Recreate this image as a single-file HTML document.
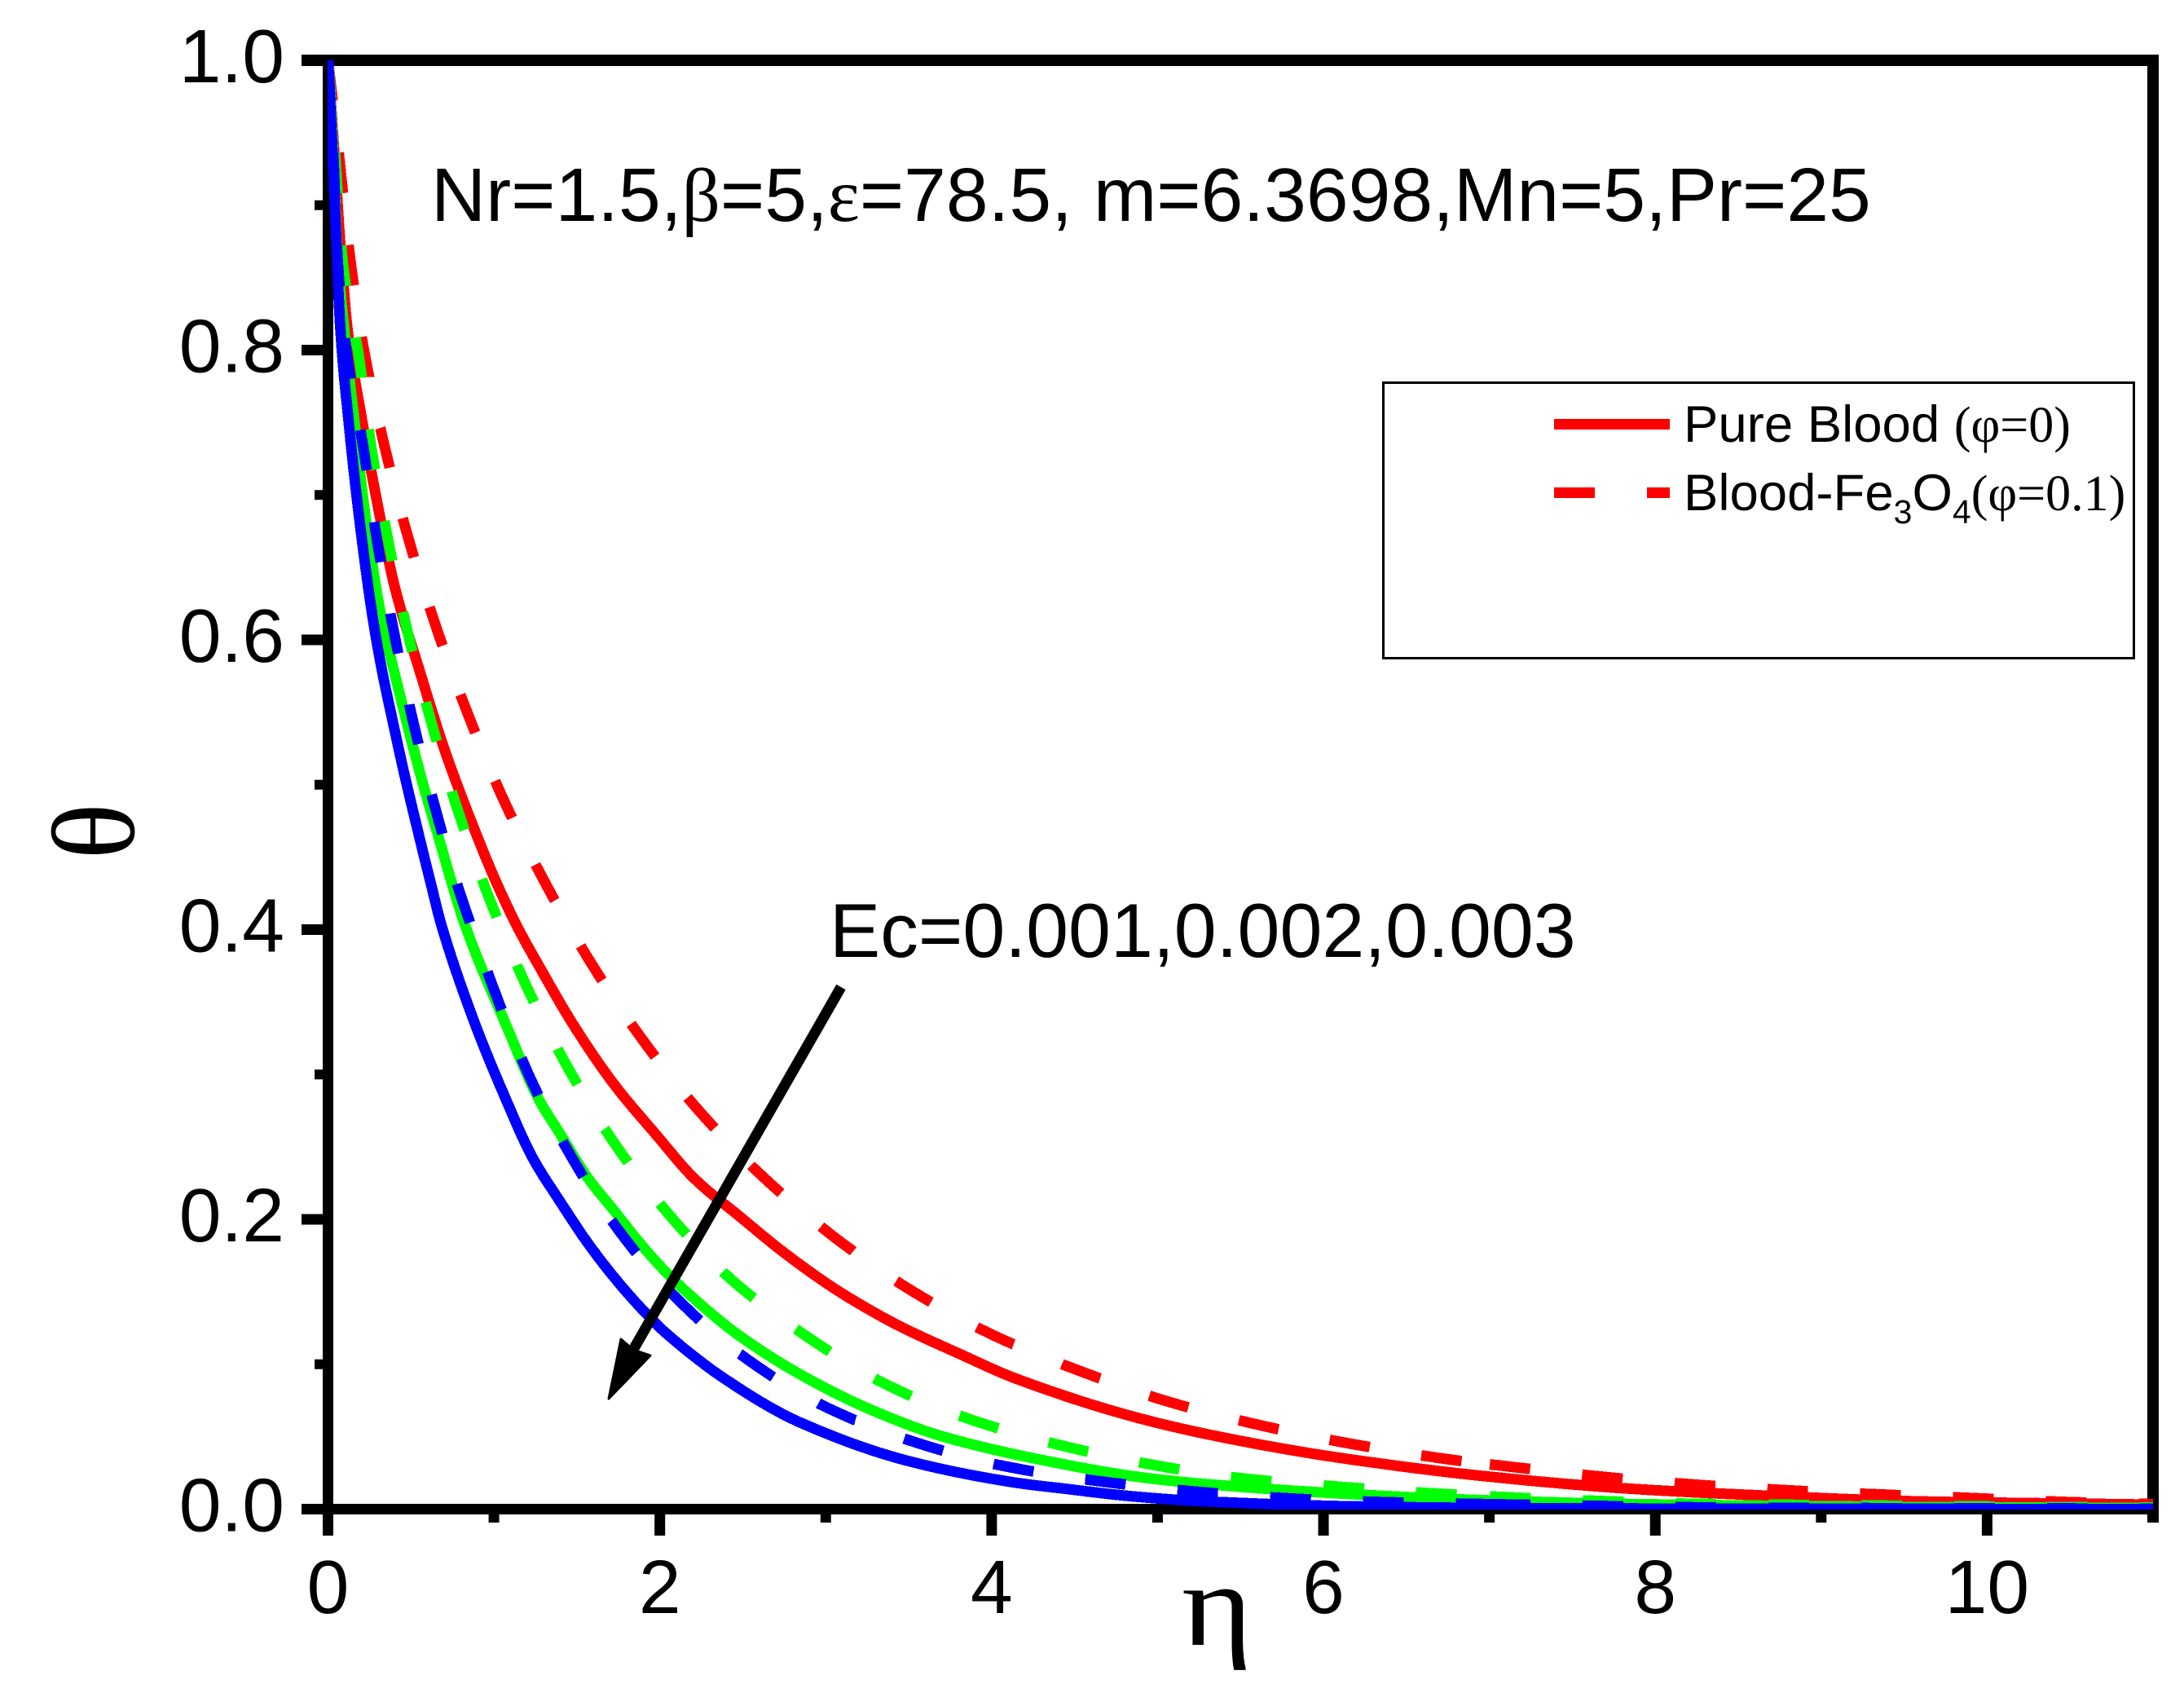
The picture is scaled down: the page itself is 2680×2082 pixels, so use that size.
<!DOCTYPE html>
<html lang="en">
<head>
<meta charset="utf-8">
<title>Temperature profile chart</title>
<style>
html,body{margin:0;padding:0;background:#fff;}
svg{display:block;}
text{font-family:"Liberation Sans",sans-serif;fill:#000;}
</style>
</head>
<body>
<svg id="chart" xmlns="http://www.w3.org/2000/svg" width="2680" height="2082" viewBox="0 0 2680 2082">
  <rect x="0" y="0" width="2680" height="2082" fill="#fff"/>
  <defs>
    <clipPath id="plot-clip"><rect x="402" y="73" width="2241" height="1779"/></clipPath>
  </defs>
  <g id="axes"></g>
  <g id="series" clip-path="url(#plot-clip)"></g>

  <text x="529" y="271" font-size="93">Nr=1.5,<tspan style="font-family:'Liberation Serif',serif">β</tspan>=5,<tspan style="font-family:'Liberation Serif',serif">ε</tspan>=78.5, m=6.3698,Mn=5,Pr=25</text>
  <text x="1018" y="1174" font-size="93.3">Ec=0.001,0.002,0.003</text>

  <g>
    <line x1="1032" y1="1211" x2="777" y2="1656" stroke="#000" stroke-width="13"/>
    <polygon points="747,1716 762,1643 777,1656 798,1663" fill="#000" stroke="#000" stroke-width="3" stroke-linejoin="round"/>
  </g>

  <g>
    <rect x="1697.5" y="469.5" width="921" height="338" fill="none" stroke="#000" stroke-width="3"/>
    <rect x="1907" y="514" width="142" height="13" fill="#ff0000"/>
    <text x="2066" y="542" font-size="63.5">Pure Blood <tspan font-size="62" style="font-family:'Liberation Serif',serif">(φ=0)</tspan></text>
    <rect x="1907" y="598" width="50" height="13" fill="#ff0000"/>
    <rect x="2021" y="598" width="28" height="13" fill="#ff0000"/>
    <text x="2066" y="626" font-size="63.5">Blood-Fe<tspan font-size="41" dy="16">3</tspan><tspan dy="-16">O</tspan><tspan font-size="41" dy="16">4</tspan><tspan dy="-16" font-size="62" style="font-family:'Liberation Serif',serif">(φ=0.1)</tspan></text>
  </g>

  <text style="font-family:'Liberation Serif',serif" font-size="145" text-anchor="middle" transform="translate(164,1020) rotate(-90)">θ</text>
  <text style="font-family:'Liberation Serif',serif" font-size="145" transform="translate(1450,2018) scale(1.15,1)">η</text>
</svg>
<script>
// ---- chart data ----
const redSolidEta = [0,0.043,0.076,0.12,0.2,0.3,0.402,0.5477,0.703,0.8916,1.0225,1.15,1.281,1.477,1.723,1.969,2.214,2.476,2.738,3.033,3.25,3.442,3.8,4.16,4.9,5.5,6.14,7,7.86,8.73,9.6,10.9,11];
const redSolid = [1,0.927,0.87,0.812,0.755,0.6928,0.6366,0.5803,0.524,0.4665,0.4305,0.4,0.373,0.3346,0.2934,0.2596,0.2275,0.2025,0.178,0.1537,0.1385,0.1265,0.1075,0.0895,0.0624,0.0471,0.0347,0.0224,0.014,0.009,0.0053,0.0032,0.003];
const redDashedEta = [0,0.059,0.138,0.223,0.34,0.479,0.6476,0.836,1.052,1.301,1.576,1.89,2.231,2.632,3.066,3.516,4.02,4.54,5.07,5.63,6.18,6.74,7.11,7.67,8.23,8.8,9.36,9.92,10.46,11];
const redDashed = [1,0.9415,0.859,0.796,0.734,0.6722,0.6103,0.5509,0.4912,0.434,0.3787,0.3249,0.2756,0.2283,0.1865,0.1509,0.1195,0.095,0.074,0.0576,0.0448,0.0346,0.0295,0.0225,0.017,0.013,0.0101,0.0076,0.005,0.0034];
const greenSolidEta = [0,0.035,0.055,0.12,0.16,0.217,0.318,0.394,0.561,0.656,0.826,1.085,1.265,1.396,1.56,1.723,1.887,2.05,2.263,2.476,2.846,3.285,3.725,4.41,4.9,5.27,6.14,7,7.86,9,10,11];
const greenSolid = [1,0.927,0.87,0.79,0.75,0.6928,0.6178,0.5803,0.5054,0.4678,0.4031,0.331,0.284,0.2596,0.2296,0.2062,0.1827,0.1621,0.1396,0.12,0.093,0.068,0.0495,0.0315,0.022,0.0175,0.0105,0.006,0.0035,0.002,0.0012,0.0008];
const greenDashedEta = [0,0.04,0.09,0.185,0.262,0.361,0.4757,0.6165,0.7785,0.965,1.18,1.428,1.71,2.034,2.414,2.828,3.35,3.87,4.39,4.95,5.5,6.06,6.6,7.11,7.67,8.23,8.8,9.36,11];
const greenDashed = [1,0.94,0.859,0.796,0.732,0.6694,0.6075,0.5456,0.4837,0.4237,0.365,0.3084,0.2553,0.2062,0.1602,0.1237,0.0869,0.062,0.0448,0.031,0.0214,0.0158,0.0113,0.0082,0.0056,0.0037,0.003,0.0024,0.001];
const blueSolidEta = [0,0.03,0.076,0.125,0.179,0.266,0.323,0.392,0.464,0.623,0.6836,0.876,1.068,1.232,1.396,1.56,1.723,1.887,2.034,2.41,2.846,3.505,4.16,4.41,4.86,5.27,6.14,7,8,11];
const blueSolid = [1,0.93,0.812,0.75,0.6928,0.6178,0.5803,0.5428,0.5054,0.4303,0.4031,0.338,0.284,0.2428,0.2128,0.1846,0.1602,0.1387,0.1218,0.0885,0.0598,0.033,0.018,0.0145,0.0087,0.0054,0.002,0.0008,0.0004,0];
const blueDashedEta = [0,0.03,0.06,0.115,0.214,0.2955,0.397,0.5149,0.6524,0.8096,1.202,1.453,1.748,2.091,2.52,3,3.53,4.08,4.64,5.2,5.76,6.31,6.87,7.5,8.5,11];
const blueDashed = [1,0.94,0.859,0.796,0.732,0.6685,0.6056,0.5428,0.4813,0.4203,0.3018,0.246,0.1931,0.1467,0.104,0.0705,0.0465,0.0296,0.0194,0.0124,0.0076,0.005,0.0037,0.0025,0.001,0.0003];
const xMajorTicks = [0,2,4,6,8,10];
const xMinorTicks = [1,3,5,7,9,11];
const yMajorTicks = [0,0.2,0.4,0.6,0.8,1];
const yMinorTicks = [0.1,0.3,0.5,0.7,0.9];
const xTickLabels = ['0','2','4','6','8','10'];
const yTickLabels = ['0.0','0.2','0.4','0.6','0.8','1.0'];

// ---- axis functions ----
const NS = 'http://www.w3.org/2000/svg';
const xPos = function (v) { return 402.5 + v * (2642 - 402.5) / 11; };
const yPos = function (v) { return 1851.5 - v * (1851.5 - 74); };
const axesG = document.getElementById('axes');
const seriesG = document.getElementById('series');

function rect(parent, x, y, w, h, name) {
  const r = document.createElementNS(NS, 'rect');
  r.setAttribute('x', x);
  r.setAttribute('y', y);
  r.setAttribute('width', w);
  r.setAttribute('height', h);
  r.setAttribute('fill', '#000');
  
  
  parent.appendChild(r);
  return r;
}

// frame
rect(axesG, 370, 67, 2279, 14, 'top-axis-line');
rect(axesG, 396, 67, 13, 1817, 'left-axis-line');
rect(axesG, 370, 1845, 2279, 13, 'bottom-axis-line');
rect(axesG, 2635, 67, 14, 1801, 'right-axis-line');

// ticks
yMajorTicks.forEach(function (v, i) {
  rect(axesG, 370, yPos(v) - 6.5, 30, 13, 'y-major-tick');
  const t = document.createElementNS(NS, 'text');
  t.setAttribute('x', 349);
  t.setAttribute('y', yPos(v) + 27);
  t.setAttribute('text-anchor', 'end');
  t.setAttribute('font-size', '93');
  
  
  t.textContent = yTickLabels[i];
  axesG.appendChild(t);
});
yMinorTicks.forEach(function (v) {
  rect(axesG, 386, yPos(v) - 6, 14, 12, 'y-minor-tick');
});
xMajorTicks.forEach(function (v, i) {
  rect(axesG, xPos(v) - 6.5, 1850, 13, 34, 'x-major-tick');
  const t = document.createElementNS(NS, 'text');
  t.setAttribute('x', xPos(v));
  t.setAttribute('y', 1979);
  t.setAttribute('text-anchor', 'middle');
  t.setAttribute('font-size', '93');
  
  
  t.textContent = xTickLabels[i];
  axesG.appendChild(t);
});
xMinorTicks.forEach(function (v) {
  rect(axesG, xPos(v) - 6.5, 1850, 13, 18, 'x-minor-tick');
});

// monotone cubic drawing of a series read from its arrays
function curve(xs, ys) {
  const n = xs.length, d = [], m = [];
  for (let i = 0; i < n - 1; i++) d.push((ys[i + 1] - ys[i]) / (xs[i + 1] - xs[i]));
  m.push(d[0]);
  for (let i = 1; i < n - 1; i++) m.push(d[i - 1] * d[i] <= 0 ? 0 : 2 * d[i - 1] * d[i] / (d[i - 1] + d[i]));
  m.push(d[n - 2]);
  const pts = [];
  for (let i = 0; i < n - 1; i++) {
    const h = xs[i + 1] - xs[i];
    const steps = 24;
    for (let s = 0; s < steps; s++) {
      const t = s / steps, t2 = t * t, t3 = t2 * t;
      const v = (2 * t3 - 3 * t2 + 1) * ys[i] + (t3 - 2 * t2 + t) * h * m[i] + (-2 * t3 + 3 * t2) * ys[i + 1] + (t3 - t2) * h * m[i + 1];
      pts.push([xPos(xs[i] + t * h), yPos(v), xs[i] + t * h]);
    }
  }
  pts.push([xPos(xs[n - 1]), yPos(ys[n - 1]), xs[n - 1]]);
  return pts;
}

function solidPath(pts) {
  let d = '';
  for (let i = 0; i < pts.length; i++) d += (i ? 'L' : 'M') + pts[i][0].toFixed(1) + ' ' + pts[i][1].toFixed(1);
  return d;
}
const dashOn = 50, dashPeriod = 114, dashRestartEta = 7;
function dashedPath(pts) {
  let d = '', s = 0, restarted = false, penDown = false;
  for (let i = 0; i < pts.length - 1; i++) {
    let a = pts[i];
    const b = pts[i + 1];
    if (!restarted && a[2] >= dashRestartEta) { s = 0; restarted = true; penDown = false; }
    let len = Math.hypot(b[0] - a[0], b[1] - a[1]);
    while (len > 0.001) {
      const ph = s % dashPeriod;
      const on = ph < dashOn;
      const rem = on ? dashOn - ph : dashPeriod - ph;
      const stepLen = Math.min(rem, len);
      const f = stepLen / len;
      const c = [a[0] + (b[0] - a[0]) * f, a[1] + (b[1] - a[1]) * f, a[2]];
      if (on) {
        if (!penDown) { d += 'M' + a[0].toFixed(1) + ' ' + a[1].toFixed(1); penDown = true; }
        d += 'L' + c[0].toFixed(1) + ' ' + c[1].toFixed(1);
      } else {
        penDown = false;
      }
      a = c;
      s += stepLen;
      len -= stepLen;
    }
  }
  return d;
}
function addSeries(etas, values, color, dashed, name) {
  const p = document.createElementNS(NS, 'path');
  const pts = curve(etas, values);
  p.setAttribute('d', dashed ? dashedPath(pts) : solidPath(pts));
  p.setAttribute('fill', 'none');
  p.setAttribute('stroke', color);
  p.setAttribute('stroke-width', '13');
  p.setAttribute('stroke-linecap', 'butt');
  p.setAttribute('stroke-linejoin', 'round');
  p.setAttribute('shape-rendering', 'crispEdges');
  
  
  seriesG.appendChild(p);
}
addSeries(redSolidEta, redSolid, '#ff0000', false, 'series-pure-blood-ec-0-001');
addSeries(redDashedEta, redDashed, '#ff0000', true, 'series-nanofluid-ec-0-001');
addSeries(greenSolidEta, greenSolid, '#00ff00', false, 'series-pure-blood-ec-0-002');
addSeries(greenDashedEta, greenDashed, '#00ff00', true, 'series-nanofluid-ec-0-002');
addSeries(blueSolidEta, blueSolid, '#0000ff', false, 'series-pure-blood-ec-0-003');
addSeries(blueDashedEta, blueDashed, '#0000ff', true, 'series-nanofluid-ec-0-003');
</script>
</body>
</html>
